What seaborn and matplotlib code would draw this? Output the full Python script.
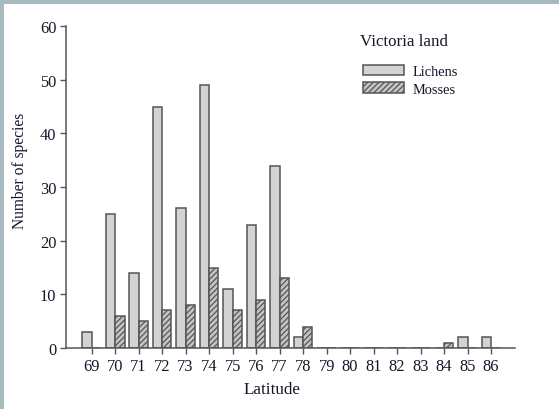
import matplotlib
matplotlib.use("Agg")
import matplotlib.pyplot as plt
from matplotlib.patches import Patch, Rectangle
import seaborn as sns
import pandas as pd

# Species counts per degree of latitude, Victoria Land
latitudes = [69, 70, 71, 72, 73, 74, 75, 76, 77, 78, 79, 80, 81, 82, 83, 84, 85, 86]
lichens = [3, 25, 14, 45, 26, 49, 11, 23, 34, 2, 0, 0, 0, 0, 0, 0, 2, 2]
mosses = [0, 6, 5, 7, 8, 15, 7, 9, 13, 4, 0, 0, 0, 0, 0, 1, 0, 0]
groups = ["Lichens", "Mosses"]

df = pd.DataFrame({
    "Latitude": [str(v) for v in latitudes] * 2,
    "Species": lichens + mosses,
    "Group": [groups[0]] * len(latitudes) + [groups[1]] * len(latitudes),
})

sns.set_theme(style="ticks")
plt.rcParams["font.family"] = ["Liberation Serif", "DejaVu Serif"]
plt.rcParams["hatch.color"] = "#444444"
plt.rcParams["hatch.linewidth"] = 0.9

text_col = "#15152a"
edge_col = "#555555"
lichen_col = "#d3d3d3"
moss_col = "#c4c4c4"

fig = plt.figure(figsize=(5.59, 4.10), dpi=100, facecolor="#a7babe")
# white page behind the chart
fig.patches.append(Rectangle((4 / 559, 0), 1, 1 - 5 / 410, transform=fig.transFigure,
                             facecolor="white", edgecolor="none", zorder=-10))

ax = fig.add_axes([66 / 559, 1 - 349 / 410, (515 - 66) / 559, (349 - 27) / 410])
ax.set_facecolor("none")
ax.set_zorder(5)

sns.barplot(data=df, x="Latitude", y="Species", hue="Group", order=[str(v) for v in latitudes],
            hue_order=groups, palette=[lichen_col, moss_col], width=0.8, dodge=True,
            edgecolor=edge_col, linewidth=1.1, saturation=1, legend=False, ax=ax)

for bar in ax.containers[1]:
    bar.set_hatch("//////")

ax.set_xlim(-1.09, 18.02)
ax.set_ylim(0, 60)
ax.set_yticks(range(0, 61, 10))

for side in ["top", "right"]:
    ax.spines[side].set_visible(False)
for side in ["left", "bottom"]:
    ax.spines[side].set_color(edge_col)
    ax.spines[side].set_linewidth(1.1)

ax.tick_params(axis="both", direction="out", length=4, width=1.0, color=edge_col,
               labelsize=11.8, labelcolor=text_col, pad=3)

ax.set_xlabel("Latitude", fontsize=12.3, color=text_col)
ax.set_ylabel("Number of species", fontsize=11.2, color=text_col)
ax.xaxis.set_label_coords(0.459, -0.104)
ax.yaxis.set_label_coords(-0.085, 0.553)

fig.text(360 / 559, 1 - 42 / 410, "Victoria land", fontsize=12.2, color=text_col,
         ha="left", va="center")

handles = [
    Patch(facecolor=lichen_col, edgecolor=edge_col, linewidth=1.1, label=groups[0]),
    Patch(facecolor=moss_col, edgecolor=edge_col, linewidth=1.1, hatch="//////", label=groups[1]),
]
leg = fig.legend(handles=handles, loc="upper left",
                 bbox_to_anchor=(363 / 559, 1 - 66 / 410), frameon=False,
                 fontsize=10.4, handlelength=2.85, handleheight=0.7,
                 handletextpad=0.6, labelspacing=0.3, borderaxespad=0, borderpad=0)
for t in leg.get_texts():
    t.set_color(text_col)

fig.savefig("out.png", dpi=100, facecolor=fig.get_facecolor())
